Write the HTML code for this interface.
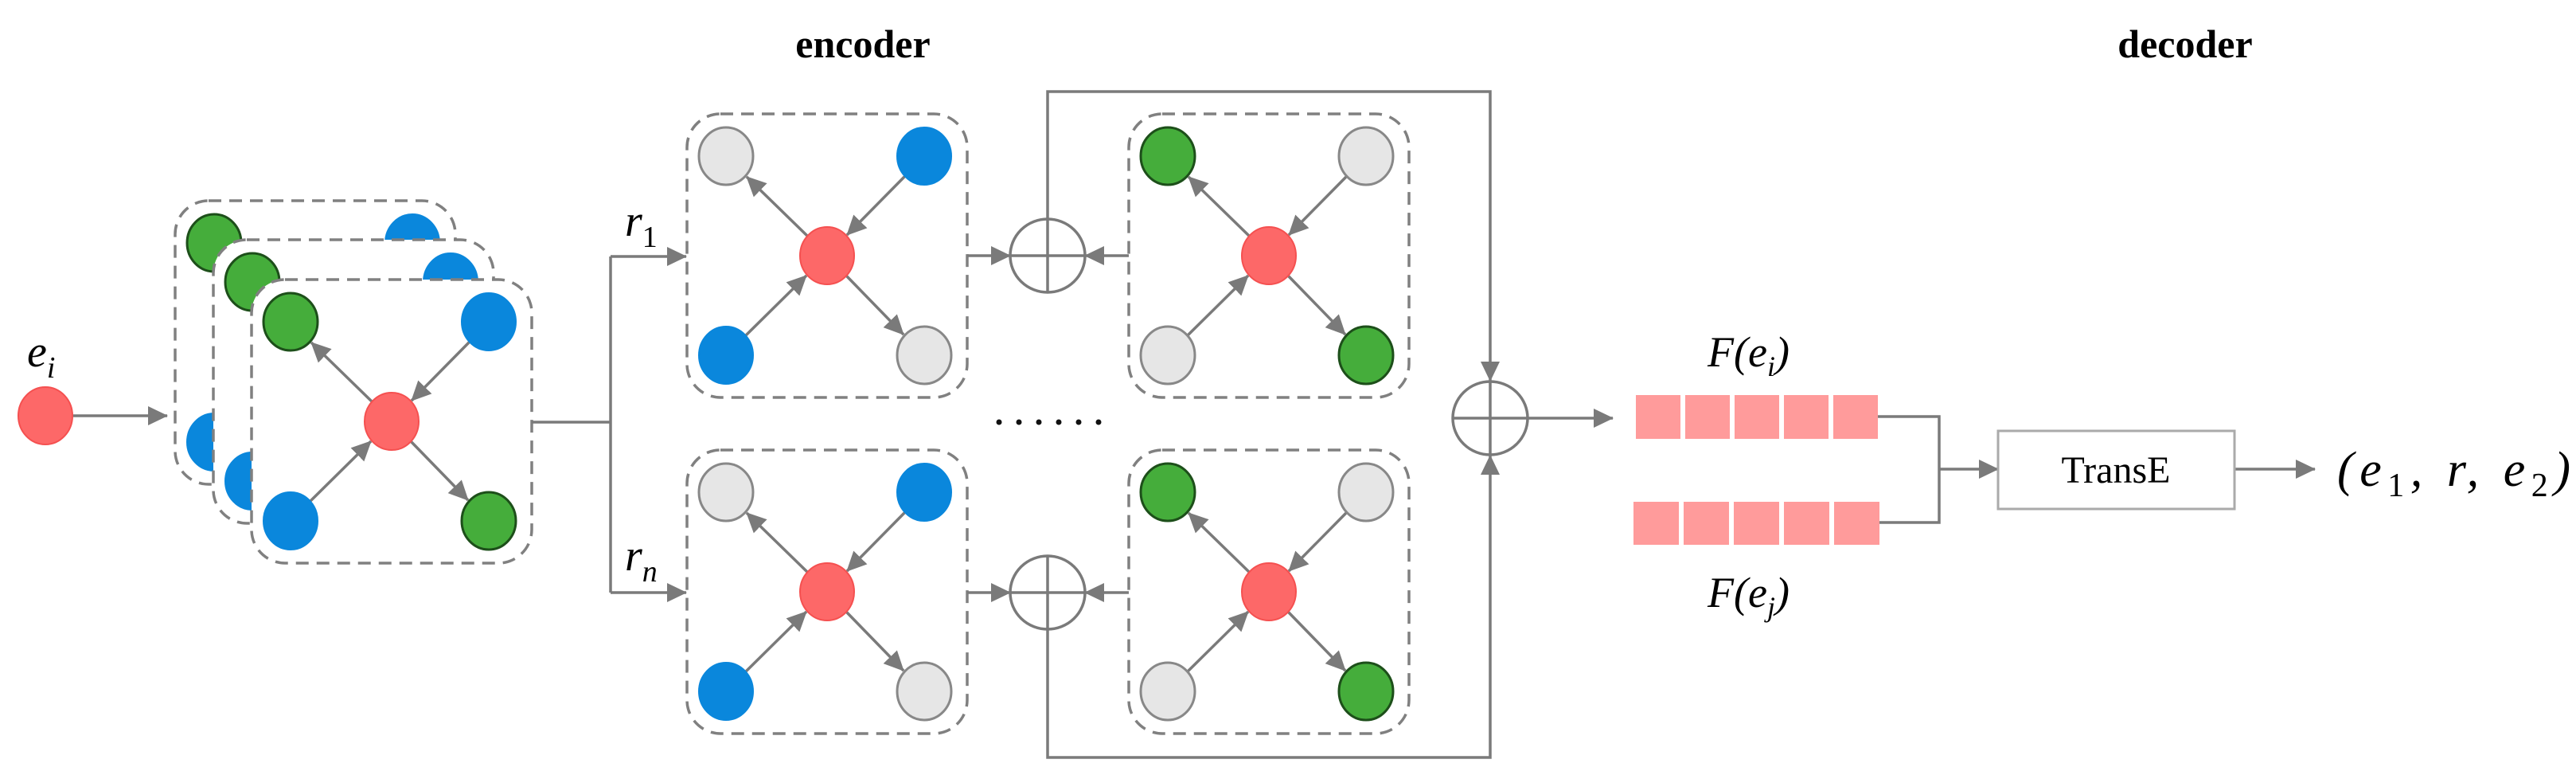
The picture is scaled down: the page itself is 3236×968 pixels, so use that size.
<!DOCTYPE html>
<html><head><meta charset="utf-8">
<style>
html,body{margin:0;padding:0;background:#fff;}
svg{display:block;}
.t{font-family:"Liberation Serif",serif;}
</style></head>
<body>
<svg width="3236" height="968" viewBox="0 0 3236 968" xmlns="http://www.w3.org/2000/svg">
<defs>
<marker id="a" markerUnits="userSpaceOnUse" markerWidth="26" markerHeight="24" refX="24" refY="12" orient="auto">
<path d="M0,0 L25,12 L0,24 Z" fill="#7a7a7a"/>
</marker>
<g id="edges" stroke="#7a7a7a" stroke-width="3.5" fill="none">
<line x1="151" y1="153" x2="75" y2="79" marker-end="url(#a)"/>
<line x1="274" y1="78" x2="201" y2="152" marker-end="url(#a)"/>
<line x1="74" y1="278" x2="150" y2="203" marker-end="url(#a)"/>
<line x1="200" y1="203" x2="272" y2="277" marker-end="url(#a)"/>
</g>
<ellipse id="R" rx="34" ry="36" fill="#fd6868" stroke="#f55050" stroke-width="2"/>
<ellipse id="B" rx="34" ry="36" fill="#0a87dc" stroke="#0a87dc" stroke-width="2"/>
<ellipse id="G" rx="34" ry="36" fill="#45ad3b" stroke="#1d4f1a" stroke-width="3"/>
<ellipse id="Y" rx="34" ry="36" fill="#e6e6e6" stroke="#888" stroke-width="3"/>
<rect id="box" x="0" y="0" width="352" height="356" rx="42" fill="#fff" stroke="#808080" stroke-width="3.5" stroke-dasharray="16,10"/>
<g id="stack">
<use href="#box"/>
<use href="#edges"/>
<use href="#G" x="49" y="53"/><use href="#B" x="298" y="53"/>
<use href="#B" x="49" y="303"/><use href="#G" x="298" y="303"/>
<use href="#R" x="176" y="178"/>
</g>
<g id="encL">
<use href="#box"/>
<use href="#edges"/>
<use href="#Y" x="49" y="53"/><use href="#B" x="298" y="53"/>
<use href="#B" x="49" y="303"/><use href="#Y" x="298" y="303"/>
<use href="#R" x="176" y="178"/>
</g>
<g id="encR">
<use href="#box"/>
<use href="#edges"/>
<use href="#G" x="49" y="53"/><use href="#Y" x="298" y="53"/>
<use href="#Y" x="49" y="303"/><use href="#G" x="298" y="303"/>
<use href="#R" x="176" y="178"/>
</g>
<g id="plus" stroke="#7a7a7a" stroke-width="3.5" fill="#fff">
<ellipse cx="0" cy="0" rx="47" ry="46"/>
<line x1="-47" y1="0" x2="47" y2="0"/>
<line x1="0" y1="-46" x2="0" y2="46"/>
</g>
</defs>

<text class="t" x="1084" y="72" font-size="50" font-weight="bold" text-anchor="middle">encoder</text>
<text class="t" x="2745" y="72" font-size="50" font-weight="bold" text-anchor="middle">decoder</text>

<text class="t" x="34" y="460" font-size="56" font-style="italic">e<tspan font-size="38" dy="14">i</tspan></text>
<ellipse cx="57" cy="522" rx="34" ry="36" fill="#fd6868" stroke="#f55050" stroke-width="2"/>
<line x1="92" y1="522" x2="210" y2="522" stroke="#7a7a7a" stroke-width="3.5" marker-end="url(#a)"/>

<use href="#stack" x="220" y="252"/>
<use href="#stack" x="268" y="301"/>
<use href="#stack" x="316" y="351"/>

<g stroke="#7a7a7a" stroke-width="3.5" fill="none">
<polyline points="668,530 767,530"/>
<polyline points="767,322 767,744"/>
<line x1="767" y1="322" x2="862" y2="322" marker-end="url(#a)"/>
<line x1="767" y1="744" x2="862" y2="744" marker-end="url(#a)"/>
</g>
<text class="t" x="785" y="296" font-size="56" font-style="italic">r<tspan font-size="38" dy="14" font-style="normal">1</tspan></text>
<text class="t" x="785" y="716" font-size="56" font-style="italic">r<tspan font-size="38" dy="14">n</tspan></text>

<use href="#encL" x="863" y="143"/>
<use href="#encL" x="863" y="565"/>
<use href="#encR" x="1418" y="143"/>
<use href="#encR" x="1418" y="565"/>

<g stroke="#7a7a7a" stroke-width="3.5" fill="none">
<polyline points="1316,275 1316,115 1872,115 1872,478" marker-end="url(#a)"/>
<polyline points="1316,790 1316,951 1872,951 1872,572" marker-end="url(#a)"/>
<line x1="1215" y1="321" x2="1269" y2="321" marker-end="url(#a)"/>
<line x1="1418" y1="321" x2="1363" y2="321" marker-end="url(#a)"/>
<line x1="1215" y1="744" x2="1269" y2="744" marker-end="url(#a)"/>
<line x1="1418" y1="744" x2="1363" y2="744" marker-end="url(#a)"/>
<line x1="1919" y1="525" x2="2026" y2="525" marker-end="url(#a)"/>
</g>
<use href="#plus" x="1316" y="321"/>
<use href="#plus" x="1316" y="744"/>
<use href="#plus" x="1872" y="525"/>
<g fill="#111">
<circle cx="1255" cy="530" r="3.5"/><circle cx="1280" cy="530" r="3.5"/><circle cx="1305" cy="530" r="3.5"/>
<circle cx="1330" cy="530" r="3.5"/><circle cx="1355" cy="530" r="3.5"/><circle cx="1380" cy="530" r="3.5"/>
</g>

<g fill="#ff9b9b">
<rect x="2055" y="496" width="56" height="55"/><rect x="2117" y="496" width="56" height="55"/>
<rect x="2179" y="496" width="56" height="55"/><rect x="2241" y="496" width="56" height="55"/>
<rect x="2303" y="496" width="56" height="55"/>
<rect x="2052" y="630" width="57" height="54"/><rect x="2115" y="630" width="57" height="54"/>
<rect x="2178" y="630" width="57" height="54"/><rect x="2241" y="630" width="57" height="54"/>
<rect x="2304" y="630" width="57" height="54"/>
</g>
<text class="t" x="2145" y="460" font-size="54" font-style="italic">F(e<tspan font-size="36" dy="12">i</tspan><tspan dy="-12">)</tspan></text>
<text class="t" x="2145" y="762" font-size="54" font-style="italic">F(e<tspan font-size="36" dy="12">j</tspan><tspan dy="-12">)</tspan></text>

<g stroke="#7a7a7a" stroke-width="3.5" fill="none">
<polyline points="2359,523 2436,523 2436,656 2361,656"/>
<line x1="2436" y1="589" x2="2510" y2="589" marker-end="url(#a)"/>
<line x1="2807" y1="589" x2="2908" y2="589" marker-end="url(#a)"/>
</g>
<rect x="2510" y="541" width="297" height="98" fill="#fff" stroke="#aaa" stroke-width="3"/>
<text class="t" x="2658" y="606" font-size="48" text-anchor="middle">TransE</text>
<text class="t" x="2936" y="610" font-size="62" font-style="italic" textLength="293" lengthAdjust="spacing">(e<tspan font-size="42" dy="13" font-style="normal">1</tspan><tspan dy="-13">, r, e</tspan><tspan font-size="42" dy="13" font-style="normal">2</tspan><tspan dy="-13">)</tspan></text>
</svg>
</body></html>
